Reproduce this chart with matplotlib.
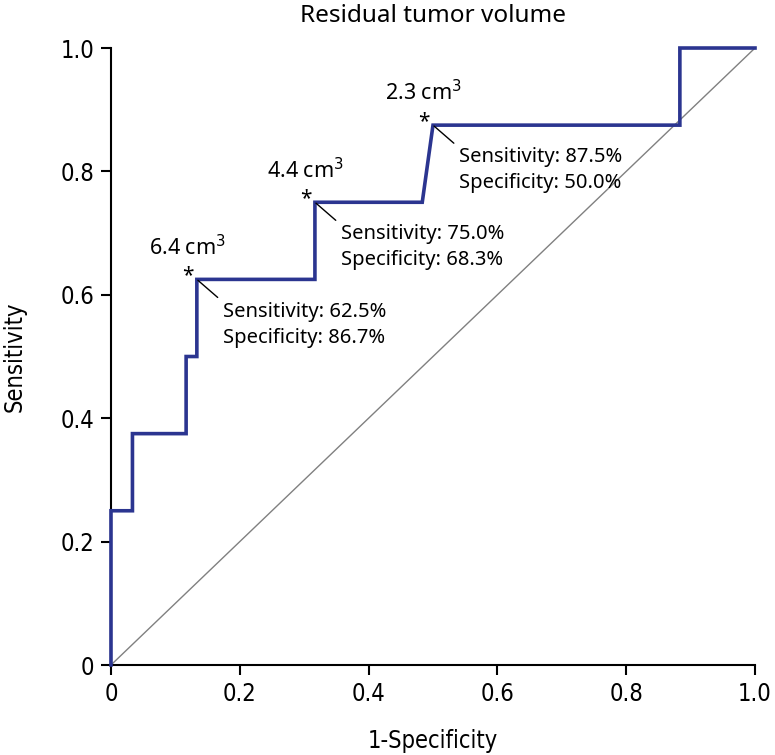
import matplotlib
matplotlib.use("Agg")
import matplotlib.pyplot as plt

# ROC curve points (1-specificity, sensitivity)
fpr = [0, 0, 2/60, 2/60, 7/60, 7/60, 8/60, 8/60, 19/60, 19/60, 29/60, 30/60, 53/60, 53/60, 1.0]
tpr = [0, 0.25, 0.25, 0.375, 0.375, 0.5, 0.5, 0.625, 0.625, 0.75, 0.75, 0.875, 0.875, 1.0, 1.0]

# cut-off annotations
cut_x = [8/60, 19/60, 30/60]
cut_y = [0.625, 0.75, 0.875]
cut_vol = ["6.4", "4.4", "2.3"]
cut_sens = ["62.5%", "75.0%", "87.5%"]
cut_spec = ["86.7%", "68.3%", "50.0%"]

ticks = [0, 0.2, 0.4, 0.6, 0.8, 1.0]
tick_labels = ["0", "0.2", "0.4", "0.6", "0.8", "1.0"]

narrow = ["DejaVu Sans"]
body = ["Noto Sans", "DejaVu Sans"]

fig = plt.figure(figsize=(7.75, 7.55), dpi=100)
ax = fig.add_axes([0.1432, 0.1192, 0.8310, 0.8172])

ax.plot([0, 1], [0, 1], color="#808080", lw=1.0, zorder=1)
ax.plot(fpr, tpr, color="#2b3590", lw=2.6, zorder=3, solid_joinstyle="miter",
        clip_on=False)

for x, y, v, se, sp in zip(cut_x, cut_y, cut_vol, cut_sens, cut_spec):
    ax.annotate("", xy=(x, y), xytext=(15, -13), textcoords="offset points",
                arrowprops=dict(arrowstyle="-", color="black", lw=1.0,
                                shrinkA=0, shrinkB=1))
    ax.annotate("*", xy=(x, y), xytext=(-6.5, -5), textcoords="offset points",
                ha="center", va="bottom", fontsize=15, family=body)
    ax.annotate(v + " cm$^3$", xy=(x, y), xytext=(-7, 14), textcoords="offset points",
                ha="center", va="bottom", fontsize=15.5, family=body)
    ax.annotate("Sensitivity: " + se + "\nSpecificity: " + sp, xy=(x, y),
                xytext=(19, -16), textcoords="offset points", ha="left", va="top",
                fontsize=14.5, family=body, linespacing=1.4)

ax.set_xlim(0, 1)
ax.set_ylim(0, 1)
ax.set_xticks(ticks)
ax.set_xticklabels(tick_labels, fontsize=17, family=narrow, fontstretch="condensed")
ax.set_yticks(ticks)
ax.set_yticklabels(tick_labels, fontsize=17, family=narrow, fontstretch="condensed")

for s in ["top", "right"]:
    ax.spines[s].set_visible(False)
for s in ["left", "bottom"]:
    ax.spines[s].set_linewidth(1.5)
ax.tick_params(direction="out", length=7, width=1.5, pad=5)

ax.set_xlabel("1-Specificity", fontsize=17, family=narrow, fontstretch="condensed",
              labelpad=17)
ax.set_ylabel("Sensitivity", fontsize=17, family=narrow, fontstretch="condensed",
              labelpad=24)
ax.set_title("Residual tumor volume", fontsize=17.5, family=body, pad=19)

fig.savefig("out.png", dpi=100)
